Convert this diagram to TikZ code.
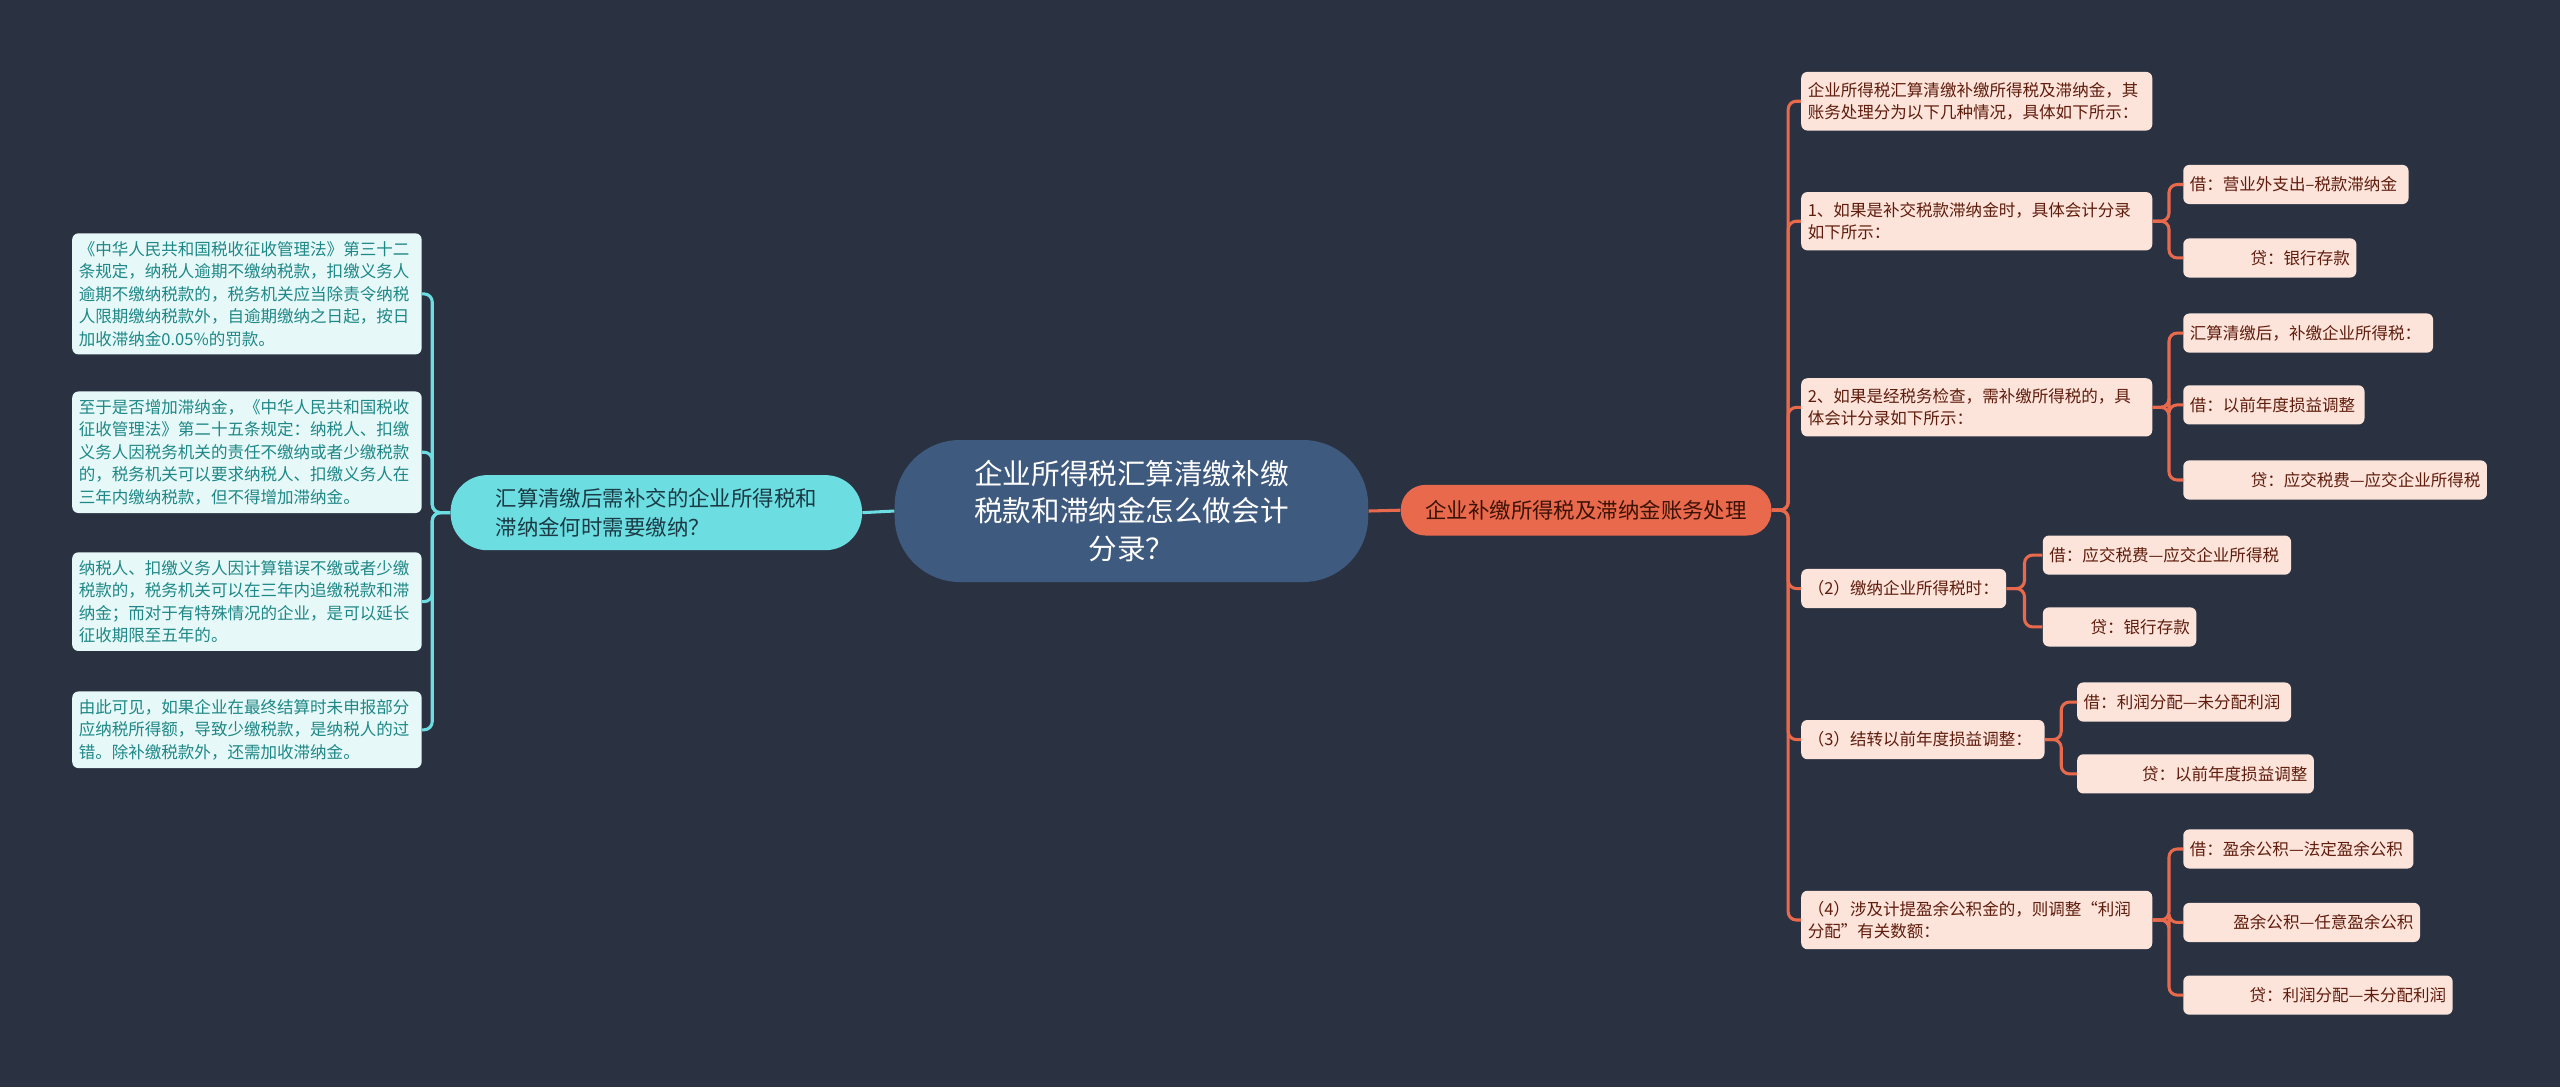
\documentclass[tikz,border=0pt]{standalone}
\usepackage{fontspec}
\setmainfont{Noto Sans CJK SC}
\usepackage{tikz}
\usetikzlibrary{positioning}
\definecolor{bg}{RGB}{42, 50, 66}
\definecolor{rootfill}{RGB}{63, 90, 127}
\definecolor{cyanline}{RGB}{108, 222, 226}
\definecolor{cyanleaf}{RGB}{230, 248, 247}
\definecolor{cyantext}{RGB}{30, 135, 135}
\definecolor{lbtext}{RGB}{27, 58, 68}
\definecolor{coral}{RGB}{233, 105, 76}
\definecolor{coralleaf}{RGB}{252, 228, 219}
\definecolor{coraltext}{RGB}{95, 28, 12}
\definecolor{rbtext}{RGB}{59, 18, 6}

\begin{document}
\begin{tikzpicture}[x=0.8pt, y=-0.8pt,
  root/.style={fill=rootfill, text=white, rounded corners=32pt, minimum width=232pt, minimum height=69.6pt, align=center, font=\fontsize{14}{18.4}\selectfont},
  lbranch/.style={fill=cyanline, text=lbtext, rounded corners=18pt, minimum width=201.6pt, minimum height=36.8pt, align=left, font=\fontsize{10.5}{14.4}\selectfont},
  rbranch/.style={fill=coral, text=rbtext, rounded corners=12pt, minimum width=181.6pt, minimum height=24.8pt, font=\fontsize{10.5}{13}\selectfont},
  lleaf/.style={fill=cyanleaf, text=cyantext, rounded corners=3pt, anchor=west, inner xsep=3.2pt, inner ysep=3.9pt, text width=164.8pt, align=left, font=\fontsize{8.1}{11}\selectfont},
  rleaf/.style={fill=coralleaf, text=coraltext, rounded corners=3pt, anchor=west, inner xsep=3.2pt, inner ysep=5pt, minimum height=19.2pt, align=left, font=\fontsize{8.1}{11}\selectfont},
  lline/.style={draw=cyanline, line width=1.5pt, rounded corners=4pt},
  rline/.style={draw=coral, line width=1.5pt, rounded corners=4pt}]
  \fill[bg] (0,0) rectangle (1568,666);
  \useasboundingbox (0,0) rectangle (1568,666);

  % centre
  \node[root] (root) at (693,313) {企业所得税汇算清缴补缴\\税款和滞纳金怎么做会计\\分录？};

  % left side
  \node[lbranch] (lb) at (402,314) {汇算清缴后需补交的企业所得税和\\滞纳金何时需要缴纳？};
  \node[lleaf] (l1) at (44,180) {《中华人民共和国税收征收管理法》第三十二\\条规定，纳税人逾期不缴纳税款，扣缴义务人\\逾期不缴纳税款的，税务机关应当除责令纳税\\人限期缴纳税款外，自逾期缴纳之日起，按日\\加收滞纳金0.05\%的罚款。};
  \node[lleaf] (l2) at (44,277) {至于是否增加滞纳金，《中华人民共和国税收\\征收管理法》第二十五条规定：纳税人、扣缴\\义务人因税务机关的责任不缴纳或者少缴税款\\的，税务机关可以要求纳税人、扣缴义务人在\\三年内缴纳税款，但不得增加滞纳金。};
  \node[lleaf] (l3) at (44,368.5) {纳税人、扣缴义务人因计算错误不缴或者少缴\\税款的，税务机关可以在三年内追缴税款和滞\\纳金；而对于有特殊情况的企业，是可以延长\\征收期限至五年的。};
  \node[lleaf] (l4) at (44,447) {由此可见，如果企业在最终结算时未申报部分\\应纳税所得额，导致少缴税款，是纳税人的过\\错。除补缴税款外，还需加收滞纳金。};
  \draw[lline] (root.west) -- (lb.east);
  \foreach \n in {l1,l2,l3,l4}
    \draw[lline] (lb.west) -- ++(-11,0) |- (\n.east);

  % right side
  \node[rbranch] (rb) at (971.5,312.5) {企业补缴所得税及滞纳金账务处理};
  \node[rleaf, text width=165.6pt] (r1) at (1103,62) {企业所得税汇算清缴补缴所得税及滞纳金，其\\账务处理分为以下几种情况，具体如下所示：};
  \node[rleaf, text width=165.6pt] (r2) at (1103,135.5) {1、如果是补交税款滞纳金时，具体会计分录\\如下所示：};
  \node[rleaf, text width=165.6pt] (r3) at (1103,249.5) {2、如果是经税务检查，需补缴所得税的，具\\体会计分录如下所示：};
  \node[rleaf, text width=94pt] (r4) at (1103,360.5) {（2）缴纳企业所得税时：};
  \node[rleaf, text width=112.8pt] (r5) at (1103,453) {（3）结转以前年度损益调整：};
  \node[rleaf, text width=165.6pt] (r6) at (1103,563.5) {（4）涉及计提盈余公积金的，则调整“利润\\分配”有关数额：};
  \draw[rline] (root.east) -- (rb.west);
  \foreach \n in {r1,r2,r3,r4,r5,r6}
    \draw[rline] (rb.east) -- ++(10,0) |- (\n.west);

  % entries
  \node[rleaf, text width=104pt] (r2a) at (1337,113) {借：营业外支出–税款滞纳金};
  \node[rleaf, text width=78.4pt, align=right] (r2b) at (1337,158) {贷：银行存款};
  \node[rleaf, text width=116pt] (r3a) at (1337,204) {汇算清缴后，补缴企业所得税：};
  \node[rleaf, text width=82.4pt] (r3b) at (1337,248) {借：以前年度损益调整};
  \node[rleaf, text width=142.4pt, align=right] (r3c) at (1337,294) {贷：应交税费—应交企业所得税};
  \node[rleaf, text width=115.2pt] (r4a) at (1251,340) {借：应交税费—应交企业所得税};
  \node[rleaf, text width=68.8pt, align=right] (r4b) at (1251,384) {贷：银行存款};
  \node[rleaf, text width=98.4pt] (r5a) at (1272,430) {借：利润分配—未分配利润};
  \node[rleaf, text width=109.6pt, align=right] (r5b) at (1272,474) {贷：以前年度损益调整};
  \node[rleaf, text width=106.4pt] (r6a) at (1337,520) {借：盈余公积—法定盈余公积};
  \node[rleaf, text width=109.6pt, align=right] (r6b) at (1337,565) {盈余公积—任意盈余公积};
  \node[rleaf, text width=125.6pt, align=right] (r6c) at (1337,609.5) {贷：利润分配—未分配利润};
  \foreach \n in {r2a,r2b}
    \draw[rline] (r2.east) -- ++(10,0) |- (\n.west);
  \foreach \n in {r3a,r3b,r3c}
    \draw[rline] (r3.east) -- ++(10,0) |- (\n.west);
  \foreach \n in {r4a,r4b}
    \draw[rline] (r4.east) -- ++(11,0) |- (\n.west);
  \foreach \n in {r5a,r5b}
    \draw[rline] (r5.east) -- ++(10,0) |- (\n.west);
  \foreach \n in {r6a,r6b,r6c}
    \draw[rline] (r6.east) -- ++(10,0) |- (\n.west);
\end{tikzpicture}
\end{document}
